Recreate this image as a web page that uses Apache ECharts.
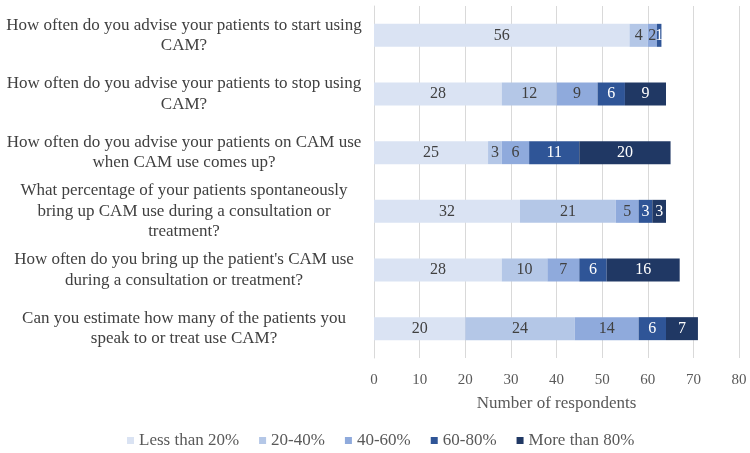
<!DOCTYPE html>
<html>
<head>
<meta charset="utf-8">
<script src="https://cdn.jsdelivr.net/npm/echarts@6/dist/echarts.min.js"></script>
<style>
  html, body { margin: 0; padding: 0; background: #fff; }
  #chart { width: 750px; height: 453px; }
</style>
</head>
<body>
<div id="chart"></div>
<script>
// questions, top to bottom
var questions = [
  'How often do you advise your patients to start using\nCAM?',
  'How often do you advise your patients to stop using\nCAM?',
  'How often do you advise your patients on CAM use\nwhen CAM use comes up?',
  'What percentage of your patients spontaneously\nbring up CAM use during a consultation or\ntreatment?',
  "How often do you bring up the patient's CAM use\nduring a consultation or treatment?",
  'Can you estimate how many of the patients you\nspeak to or treat use CAM?'
];
var groups = ['Less than 20%', '20-40%', '40-60%', '60-80%', 'More than 80%'];
var lessThan20 = [56, 28, 25, 32, 28, 20];
var from20to40 = [4, 12, 3, 21, 10, 24];
var from40to60 = [2, 9, 6, 5, 7, 14];
var from60to80 = [1, 6, 11, 3, 6, 6];
var moreThan80 = [0, 9, 20, 3, 16, 7];
var xTicks = [0, 10, 20, 30, 40, 50, 60, 70, 80];

var values = [lessThan20, from20to40, from40to60, from60to80, moreThan80];
var colors = ['#dae3f3', '#b4c7e7', '#8faadc', '#2f5597', '#203864'];
var labelColors = ['#404040', '#404040', '#404040', '#ffffff', '#ffffff'];

var chart = echarts.init(document.getElementById('chart'));

var series = [];
for (var i = 0; i < groups.length; i++) {
  series.push({
    name: groups[i],
    type: 'bar',
    stack: 'total',
    barWidth: 23,
    data: values[i],
    itemStyle: { color: colors[i] },
    label: {
      show: true,
      position: 'inside',
      color: labelColors[i],
      fontFamily: 'Liberation Serif',
      fontSize: 16,
      formatter: function (p) { return p.value > 0 ? p.value : ''; }
    }
  });
}

var option = {
  animation: false,
  textStyle: { fontFamily: 'Liberation Serif' },
  grid: { left: 374, right: 11, top: 6, bottom: 95 },
  legend: {
    data: groups,
    top: 427,
    left: 122,
    itemWidth: 7,
    itemHeight: 7,
    itemGap: 20,
    icon: 'rect',
    textStyle: { color: '#595959', fontSize: 17, fontFamily: 'Liberation Serif' }
  },
  xAxis: {
    type: 'value',
    min: xTicks[0],
    max: xTicks[xTicks.length - 1],
    interval: 10,
    name: 'Number of respondents',
    nameLocation: 'middle',
    nameGap: 37,
    nameTextStyle: { color: '#595959', fontSize: 17, fontFamily: 'Liberation Serif' },
    axisLine: { show: false },
    axisTick: { show: false },
    axisLabel: { color: '#595959', fontSize: 15, margin: 15, fontFamily: 'Liberation Serif' },
    splitLine: { show: true, lineStyle: { color: '#d9d9d9', width: 1 } }
  },
  yAxis: {
    type: 'category',
    inverse: true,
    data: questions,
    axisLine: { show: true, lineStyle: { color: '#d9d9d9' } },
    axisTick: { show: false },
    axisLabel: {
      color: '#404040',
      fontSize: 17,
      lineHeight: 20.5,
      align: 'center',
      margin: 190,
      fontFamily: 'Liberation Serif'
    }
  },
  series: series
};

chart.setOption(option);
</script>
</body>
</html>
